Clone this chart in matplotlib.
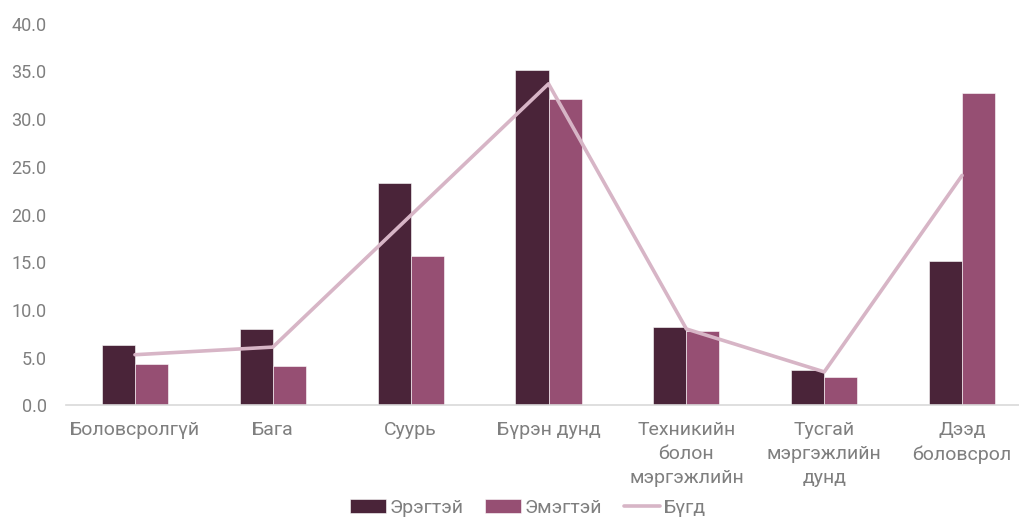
import numpy as np
import matplotlib.pyplot as plt

plt.rcParams['font.family'] = ['Roboto', 'DejaVu Sans']

categories = ['Боловсролгүй', 'Бага', 'Суурь', 'Бүрэн дунд',
              'Техникийн\nболон\nмэргэжлийн', 'Тусгай\nмэргэжлийн\nдунд',
              'Дээд\nболовсрол']
male = [6.3, 8.0, 23.3, 35.1, 8.2, 3.7, 15.1]
female = [4.3, 4.1, 15.7, 32.1, 7.8, 3.0, 32.7]
total = [5.3, 6.1, 19.9, 33.7, 8.0, 3.5, 24.1]

c_male = '#4a2439'
c_female = '#964f73'
c_total = '#d7b5c6'
grey = '#7f7f7f'

fig = plt.figure(figsize=(10.19, 5.18), dpi=100)
ax = fig.add_axes([0.0648, 0.2176, 0.947, 0.7366])

x = np.arange(len(categories))
w = 0.24
b1 = ax.bar(x - w / 2, male, w, color=c_male, label='Эрэгтэй', edgecolor='white', linewidth=0.4)
b2 = ax.bar(x + w / 2, female, w, color=c_female, label='Эмэгтэй', edgecolor='white', linewidth=0.4)
l1, = ax.plot(x, total, color=c_total, lw=2.6, label='Бүгд', solid_capstyle='round')

ax.set_xlim(-0.5, len(categories) - 0.5)
ax.set_ylim(0, 40)
ax.set_yticks(np.arange(0, 41, 5))
ax.set_yticklabels([f'{v:.1f}' for v in np.arange(0, 41, 5)])
ax.set_xticks(x)
ax.set_xticklabels(categories, linespacing=1.45)

for s in ['top', 'right', 'left']:
    ax.spines[s].set_visible(False)
ax.spines['bottom'].set_color('#d9d9d9')
ax.spines['bottom'].set_linewidth(1.2)
ax.tick_params(axis='both', length=0, labelcolor=grey)
ax.tick_params(axis='y', pad=14, labelsize=13)
ax.tick_params(axis='x', pad=11, labelsize=14)

fig.legend([b1, b2, l1], ['Эрэгтэй', 'Эмэгтэй', 'Бүгд'],
           loc='center', bbox_to_anchor=(0.518, 0.02), ncol=3, frameon=False,
           fontsize=14, labelcolor=grey, handlelength=1.85, handleheight=0.7,
           handletextpad=0.2, columnspacing=1.1)

fig.savefig('out.png', dpi=100)
